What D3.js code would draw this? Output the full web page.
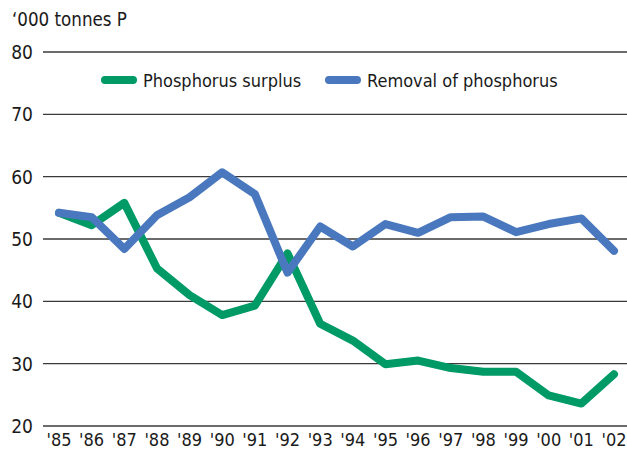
<!DOCTYPE html>
<html>
<head>
<meta charset="utf-8">
<script src="https://cdn.jsdelivr.net/npm/d3@7"></script>
<style>
  body { margin: 0; background: #fff; }
  svg text { font-family: "DejaVu Sans Condensed", "DejaVu Sans", sans-serif; fill: #1a1a1a; }
</style>
</head>
<body>
<svg id="chart" width="627" height="449"></svg>
<script>
// Data
var years = ["'85", "'86", "'87", "'88", "'89", "'90", "'91", "'92", "'93",
             "'94", "'95", "'96", "'97", "'98", "'99", "'00", "'01", "'02"];
var surplus = [54.2, 52.2, 55.8, 45.3, 41.0, 37.8, 39.3, 47.7, 36.4,
               33.7, 29.9, 30.5, 29.3, 28.7, 28.7, 24.9, 23.6, 28.3];
var removal = [54.2, 53.5, 48.4, 53.8, 56.7, 60.7, 57.2, 44.6, 52.0,
               48.8, 52.4, 51.0, 53.5, 53.6, 51.1, 52.4, 53.3, 48.1];
var yTicks = [20, 30, 40, 50, 60, 70, 80];
var seriesNames = ["Phosphorus surplus", "Removal of phosphorus"];
var colors = ["#009a66", "#4a78be"];

var svg = d3.select("#chart");

var x = d3.scalePoint()
    .domain(years)
    .range([59, 614]);

var y = d3.scaleLinear()
    .domain([20, 80])
    .range([426, 52]);

// unit label
svg.append("text")
    .attr("x", 12)
    .attr("y", 26)
    .attr("font-size", 18.6)
    .text("\u2018000 tonnes P");

// gridlines
svg.selectAll("line.grid")
    .data(yTicks)
  .enter().append("line")
    .attr("class", "grid")
    .attr("x1", 43)
    .attr("x2", 627)
    .attr("y1", function(d) { return y(d); })
    .attr("y2", function(d) { return y(d); })
    .attr("stroke", "#3a3a3a")
    .attr("stroke-width", 1.3);

// y labels
svg.selectAll("text.ylab")
    .data(yTicks)
  .enter().append("text")
    .attr("class", "ylab")
    .attr("x", 33)
    .attr("y", function(d) { return y(d) + 7; })
    .attr("text-anchor", "end")
    .attr("font-size", 19)
    .text(function(d) { return d; });

// x labels
svg.selectAll("text.xlab")
    .data(years)
  .enter().append("text")
    .attr("class", "xlab")
    .attr("x", function(d) { return x(d); })
    .attr("y", 446)
    .attr("text-anchor", "middle")
    .attr("font-size", 18)
    .text(function(d) { return d; });

var line = d3.line()
    .x(function(d, i) { return x(years[i]); })
    .y(function(d) { return y(d); });

// green first, blue on top
[surplus, removal].forEach(function(s, i) {
  svg.append("path")
      .attr("d", line(s))
      .attr("fill", "none")
      .attr("stroke", colors[i])
      .attr("stroke-width", 8)
      .attr("stroke-linejoin", "round")
      .attr("stroke-linecap", "round");
});

// legend
var legendX = [101, 325];
seriesNames.forEach(function(name, i) {
  svg.append("line")
      .attr("x1", legendX[i] + 4)
      .attr("x2", legendX[i] + 32)
      .attr("y1", 80)
      .attr("y2", 80)
      .attr("stroke", colors[i])
      .attr("stroke-width", 8)
      .attr("stroke-linecap", "round");
  svg.append("text")
      .attr("x", legendX[i] + 42)
      .attr("y", 87)
      .attr("font-size", 18)
      .text(name);
});
</script>
</body>
</html>
